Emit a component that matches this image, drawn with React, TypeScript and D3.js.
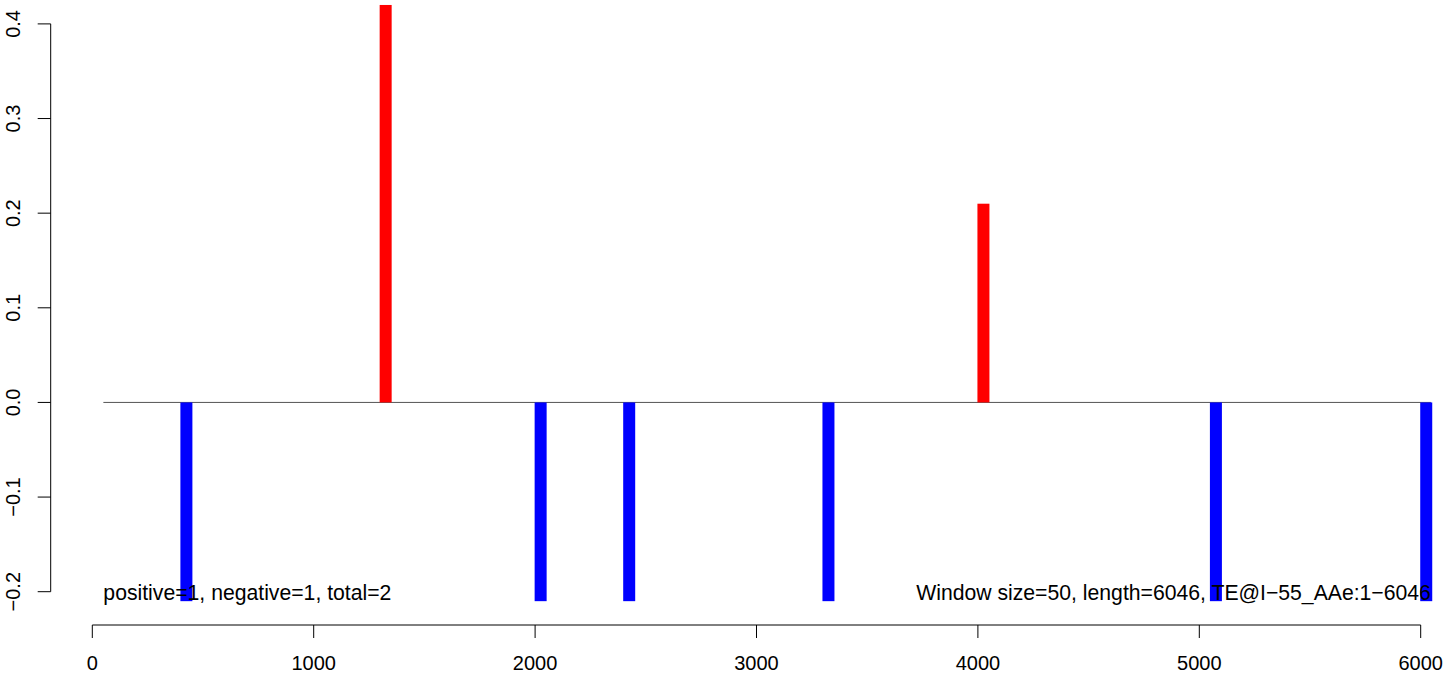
import React from "react";
import * as d3 from "d3";

const positions = [425, 1325, 2025, 2425, 3325, 4025, 5075, 6025];
const values = [-0.21, 0.42, -0.21, -0.21, -0.21, 0.21, -0.21, -0.21];
const xTicks = [0, 1000, 2000, 3000, 4000, 5000, 6000];
const yTicks = [-0.2, -0.1, 0.0, 0.1, 0.2, 0.3, 0.4];
const baselineRange = [50, 6046];
const leftNote = "positive=1, negative=1, total=2";
const rightNote = "Window size=50, length=6046, TE@I\u221255_AAe:1\u22126046";

const W = 1447;
const H = 676;
const FONT = "'Liberation Sans', Arial, Helvetica, sans-serif";
const FS = 20;
const NOTE_FS = 21.2;

export default function App() {
  const x = d3.scaleLinear().domain([0, 6000]).range([92.3, 1420.7]);
  const y = d3.scaleLinear().domain([-0.2, 0.4]).range([591.7, 23.9]);
  const barW = 12;
  const axisX = 50.7;
  const axisY = 625;
  const tickLen = 13;
  const fmtY = (v: number) => (v < 0 ? "\u2212" : "") + Math.abs(v).toFixed(1);

  return (
    <svg
      width={W}
      height={H}
      style={{ position: "absolute", left: 0, top: 0, background: "#fff" }}
      fontFamily={FONT}
    >
      <rect x={0} y={0} width={W} height={H} fill="#fff" />
      <line
        x1={x(baselineRange[0])}
        x2={x(baselineRange[1])}
        y1={y(0)}
        y2={y(0)}
        stroke="#555"
        strokeWidth={1}
      />
      {positions.map((p, i) => {
        const v = values[i];
        const y0 = y(0);
        const y1 = y(v);
        return (
          <rect
            key={i}
            x={x(p) - barW / 2}
            y={Math.min(y0, y1)}
            width={barW}
            height={Math.abs(y1 - y0)}
            fill={v >= 0 ? "#ff0000" : "#0000ff"}
          />
        );
      })}
      <text x={x(50)} y={y(-0.2) + 8.5} fontSize={NOTE_FS} fill="#000">
        {leftNote}
      </text>
      <text x={x(6046)} y={y(-0.2) + 8.5} fontSize={NOTE_FS} fill="#000" textAnchor="end">
        {rightNote}
      </text>
      <line x1={axisX} x2={axisX} y1={y(0.4)} y2={y(-0.2)} stroke="#000" strokeWidth={1} />
      {yTicks.map((t) => (
        <g key={t}>
          <line x1={axisX - tickLen} x2={axisX} y1={y(t)} y2={y(t)} stroke="#000" strokeWidth={1} />
          <text
            transform={`translate(20,${y(t)}) rotate(-90)`}
            textAnchor="middle"
            fontSize={FS}
            fill="#000"
          >
            {fmtY(t)}
          </text>
        </g>
      ))}
      <line x1={x(0)} x2={x(6000)} y1={axisY} y2={axisY} stroke="#000" strokeWidth={1} />
      {xTicks.map((t) => (
        <g key={t}>
          <line x1={x(t)} x2={x(t)} y1={axisY} y2={axisY + tickLen} stroke="#000" strokeWidth={1} />
          <text x={x(t)} y={670} textAnchor="middle" fontSize={FS} fill="#000">
            {t}
          </text>
        </g>
      ))}
    </svg>
  );
}
